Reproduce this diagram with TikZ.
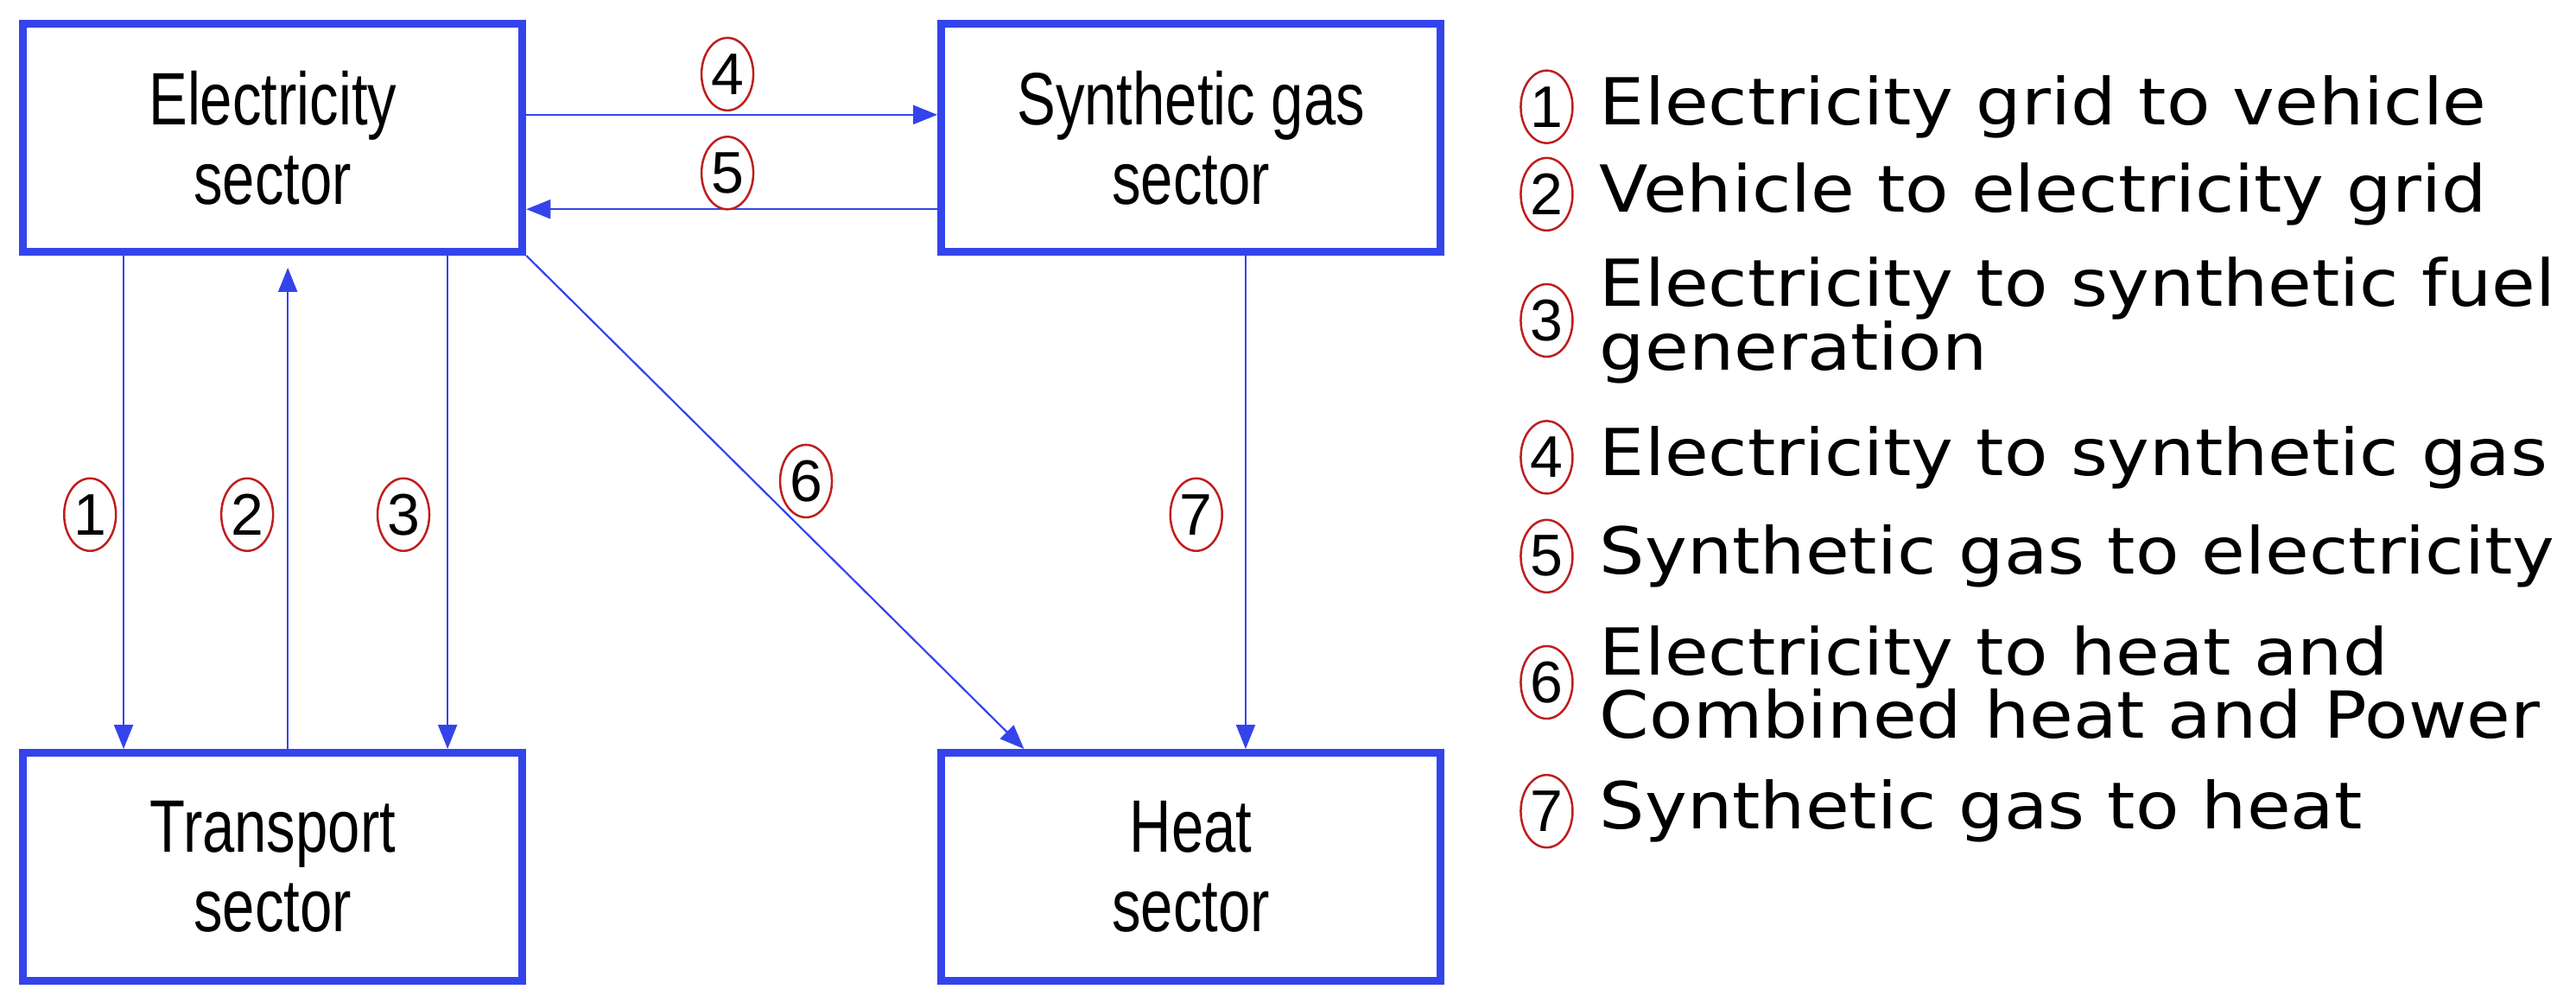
\documentclass[tikz,border=0pt]{standalone}
\usepackage{fontspec}
\setmainfont{Liberation Sans}
\newfontfamily\boxfont[FakeStretch=0.78]{Liberation Sans}
\newfontfamily\legfont[FakeStretch=1.1]{DejaVu Sans}
\usetikzlibrary{arrows.meta,shapes.geometric}
\definecolor{sblue}{RGB}{52,68,235}
\definecolor{cred}{RGB}{190,30,30}
\begin{document}
\begin{tikzpicture}[x=1.022pt,y=-1.022pt,
    Box/.style={draw=sblue,line width=9pt,minimum width=578pt,minimum height=264pt,
      align=center,font=\boxfont\fontsize{86}{92}\selectfont,inner sep=0pt},
    Line/.style={draw=sblue,line width=2.2pt,-{Triangle[length=28pt,width=22pt]}},
    Num/.style={ellipse,draw=cred,line width=2.5pt,minimum width=60pt,minimum height=84pt,
      inner sep=0pt,font=\fontsize{68}{68}\selectfont},
    Leg/.style={anchor=west,align=left,inner sep=0pt,font=\legfont\fontsize{75}{62}\selectfont},
    ]
  \useasboundingbox (0,0) rectangle (2918,1135);

  \node[Box] (E) at (309,156) {Electricity\\sector};
  \node[Box] (S) at (1349,156) {Synthetic gas\\sector};
  \node[Box] (T) at (309,982) {Transport\\sector};
  \node[Box] (H) at (1349,982) {Heat\\sector};

  \draw[Line] (E.south west -| 140,0) -- (T.north west -| 140,0);
  \draw[Line] (T.north west -| 326,0) -- ([yshift=-14pt]E.south west -| 326,0);
  \draw[Line] (E.south west -| 507,0) -- (T.north west -| 507,0);
  \draw[Line] (E.north east |- 0,130) -- (S.north west |- 0,130);
  \draw[Line] (S.north west |- 0,237) -- (E.north east |- 0,237);
  \draw[Line] (E.south east) -- (H.north west -| 1160,0);
  \draw[Line] (S.south west -| 1411,0) -- (H.north west -| 1411,0);

  \node[Num] (n1) at (102,583) {1};
  \node[Num] (n2) at (280,583) {2};
  \node[Num] (n3) at (457,583) {3};
  \node[Num] (n4) at (824,84) {4};
  \node[Num] (n5) at (824,196) {5};
  \node[Num] (n6) at (913,545) {6};
  \node[Num] (n7) at (1355,583) {7};

  \node[Num] (l1) at (1752,121) {1};
  \node[Leg] (t1) at (1812,121) {Electricity grid to vehicle};
  \node[Num] (l2) at (1752,220) {2};
  \node[Leg] (t2) at (1812,220) {Vehicle to electricity grid};
  \node[Num] (l3) at (1752,363) {3};
  \node[Leg] (t3) at (1812,363) {Electricity to synthetic fuel\\generation};
  \node[Num] (l4) at (1752,518) {4};
  \node[Leg] (t4) at (1812,518) {Electricity to synthetic gas};
  \node[Num] (l5) at (1752,630) {5};
  \node[Leg] (t5) at (1812,630) {Synthetic gas to electricity};
  \node[Num] (l6) at (1752,773) {6};
  \node[Leg] (t6) at (1812,773) {Electricity to heat and\\Combined heat and Power};
  \node[Num] (l7) at (1752,919) {7};
  \node[Leg] (t7) at (1812,919) {Synthetic gas to heat};
\end{tikzpicture}
\end{document}
